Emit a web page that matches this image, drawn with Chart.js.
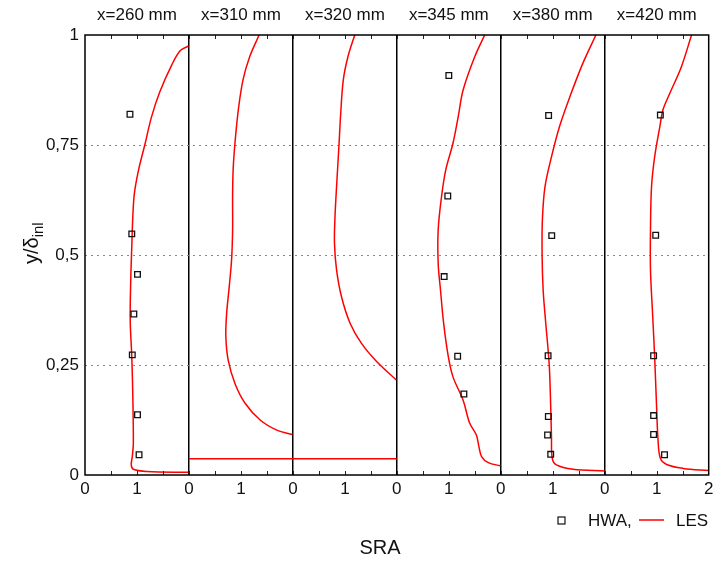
<!DOCTYPE html>
<html>
<head>
<meta charset="utf-8">
<script src="https://cdn.jsdelivr.net/npm/chart.js@4.4.1/dist/chart.umd.min.js"></script>
<style>
  html, body { margin: 0; padding: 0; background: #fff; }
  #wrap { width: 714px; height: 565px; }
</style>
</head>
<body>
<div id="wrap"><canvas id="c" width="714" height="565"></canvas></div>
<script>
// === Data (SRA per panel, local x in 0..2, y = y/delta_inl) ===
const PANELS = ['x=260 mm', 'x=310 mm', 'x=320 mm', 'x=345 mm', 'x=380 mm', 'x=420 mm'];
const PANEL_SPAN = 2;
const Y_TICKS = [0, 0.25, 0.5, 0.75, 1];

const LES_260 = [[1.99,0.975],[1.83,0.964],[1.67,0.932],[1.44,0.871],[1.28,0.814],[1.15,0.75],[1.03,0.693],
  [0.95,0.64],[0.92,0.587],[0.9,0.519],[0.88,0.443],[0.87,0.352],[0.9,0.269],[0.92,0.178],[0.93,0.072],
  [0.91,0.042],[0.89,0.023],[0.93,0.013],[1.19,0.008],[1.99,0.006]];
const LES_310 = [[1.35,1],[1.17,0.951],[1.04,0.898],[0.95,0.83],[0.885,0.754],[0.85,0.693],[0.84,0.633],
  [0.84,0.557],[0.82,0.489],[0.775,0.428],[0.725,0.367],[0.71,0.314],[0.755,0.261],[0.885,0.208],
  [1.08,0.163],[1.37,0.125],[1.69,0.102],[1.99,0.092]];
const LES_WALL = [[0,0.037],[4,0.037]]; // near-wall LES line, panel x=310 coords, runs through x=320
const LES_320 = [[1.19,1],[1.06,0.951],[0.97,0.898],[0.92,0.822],[0.885,0.746],[0.84,0.655],[0.81,0.587],
  [0.8,0.527],[0.84,0.466],[0.935,0.405],[1.1,0.345],[1.32,0.299],[1.61,0.258],[1.99,0.216]];
const LES_345 = [[1.69,1],[1.5,0.951],[1.275,0.875],[1.18,0.814],[1.08,0.754],[0.94,0.693],[0.86,0.633],
  [0.795,0.557],[0.795,0.481],[0.84,0.42],[0.9,0.345],[0.99,0.269],[1.08,0.223],[1.275,0.17],[1.4,0.118],
  [1.53,0.091],[1.58,0.064],[1.63,0.042],[1.76,0.028],[1.99,0.021]];
const LES_380 = [[1.83,1],[1.58,0.936],[1.33,0.86],[1.13,0.792],[0.975,0.723],[0.85,0.655],[0.8,0.58],
  [0.795,0.496],[0.815,0.42],[0.865,0.345],[0.93,0.254],[0.955,0.178],[0.975,0.087],[0.99,0.038],
  [1.07,0.023],[1.39,0.013],[2.0,0.009]];
const LES_420 = [[1.67,1],[1.475,0.928],[1.25,0.867],[1.12,0.83],[1.06,0.792],[0.96,0.723],[0.9,0.655],
  [0.88,0.557],[0.88,0.466],[0.92,0.367],[0.96,0.269],[0.99,0.178],[1.025,0.08],[1.07,0.038],
  [1.19,0.024],[1.51,0.015],[2.0,0.01]];

const HWA_260 = [[0.865,0.82],[0.9,0.548],[1.01,0.456],[0.94,0.366],[0.91,0.273],[1.01,0.137],[1.04,0.046]];
const HWA_310 = [];
const HWA_320 = [];
const HWA_345 = [[1.0,0.908],[0.98,0.634],[0.91,0.451],[1.17,0.27],[1.29,0.184]];
const HWA_380 = [[0.92,0.817],[0.98,0.544],[0.91,0.271],[0.915,0.133],[0.9,0.091],[0.96,0.047]];
const HWA_420 = [[1.07,0.818],[0.98,0.545],[0.94,0.271],[0.94,0.135],[0.94,0.092],[1.15,0.046]];

const LES = [LES_260, LES_310, LES_320, LES_345, LES_380, LES_420];
const HWA = [HWA_260, HWA_310, HWA_320, HWA_345, HWA_380, HWA_420];

const FONT = "'Liberation Sans', Arial, Helvetica, sans-serif";
const RED = '#ff0000';

// shift local panel coords onto the shared x axis
const place = (pts, i) => pts.map(([x, y]) => ({x: x + i * PANEL_SPAN, y}));

const datasets = [];
LES.forEach((pts, i) => datasets.push({
  label: 'LES', data: place(pts, i), showLine: true, borderColor: RED, borderWidth: 1.5,
  pointRadius: 0, tension: 0.35, order: 2
}));
datasets.push({
  label: 'LES', data: place(LES_WALL, 1), showLine: true, borderColor: RED, borderWidth: 1.5,
  pointRadius: 0, tension: 0, order: 2
});
HWA.forEach((pts, i) => datasets.push({
  label: 'HWA', data: place(pts, i), showLine: false, pointStyle: 'rect', pointRadius: 4,
  borderColor: '#111', borderWidth: 1.3, backgroundColor: 'rgba(255,255,255,0)', order: 1
}));

// === Frame, inner ticks, titles, legend ===
const decor = {
  id: 'decor',
  afterDraw(chart){
    const {ctx, chartArea: a, scales: {x, y}} = chart;
    ctx.save();
    ctx.strokeStyle = '#222';
    ctx.lineWidth = 1;
    for(let v = 0.5; v < PANELS.length * PANEL_SPAN; v += 0.5){
      const px = Math.round(x.getPixelForValue(v)) + 0.5;
      ctx.beginPath();
      ctx.moveTo(px, a.bottom); ctx.lineTo(px, a.bottom - 4);
      ctx.moveTo(px, a.top); ctx.lineTo(px, a.top + 4);
      ctx.stroke();
    }
    ctx.strokeStyle = '#000';
    ctx.lineWidth = 1.5;
    ctx.strokeRect(a.left, a.top, a.right - a.left, a.bottom - a.top);

    ctx.fillStyle = '#111';
    ctx.textAlign = 'center';
    ctx.textBaseline = 'middle';
    ctx.font = '17px ' + FONT;
    PANELS.forEach((t, i) => ctx.fillText(t, x.getPixelForValue(i * PANEL_SPAN + 1), 15));

    ctx.font = '20px ' + FONT;
    ctx.fillText('SRA', 380, 548);

    // y title with subscript
    ctx.save();
    ctx.translate(38, 240);
    ctx.rotate(-Math.PI / 2);
    ctx.textAlign = 'left';
    ctx.textBaseline = 'alphabetic';
    ctx.font = '20px ' + FONT;
    const main = 'y/\u03b4';
    const w = ctx.measureText(main).width;
    ctx.fillText(main, -24, 0);
    ctx.font = '15px ' + FONT;
    ctx.fillText('inl', -24 + w, 5);
    ctx.restore();

    // legend
    ctx.strokeStyle = '#111';
    ctx.lineWidth = 1.2;
    ctx.strokeRect(558, 517, 7, 7);
    ctx.textAlign = 'left';
    ctx.font = '17px ' + FONT;
    ctx.fillText('HWA,', 588, 521);
    ctx.strokeStyle = RED;
    ctx.lineWidth = 1.5;
    ctx.beginPath(); ctx.moveTo(639, 520); ctx.lineTo(664, 520); ctx.stroke();
    ctx.fillText('LES', 676, 521);
    ctx.restore();
  }
};

new Chart(document.getElementById('c'), {
  type: 'scatter',
  data: {datasets},
  options: {
    responsive: false, animation: false, devicePixelRatio: 1,
    layout: {padding: {left: 0, right: 0, top: 35, bottom: 0}},
    plugins: {legend: {display: false}, tooltip: {enabled: false}},
    scales: {
      x: {
        type: 'linear', min: 0, max: PANELS.length * PANEL_SPAN,
        afterBuildTicks: s => { s.ticks = Array.from({length: PANELS.length * PANEL_SPAN + 1}, (_, i) => ({value: i})); },
        afterFit: s => { s.height = 90; s.paddingRight = 5; },
        ticks: {
          font: {size: 17, family: FONT}, color: '#111', padding: 4, maxRotation: 0, autoSkip: false,
          callback: v => v % 2 === 1 ? '1' : (v === PANELS.length * PANEL_SPAN ? '2' : '0')
        },
        grid: {
          drawTicks: false,
          color: c => (c.tick && c.tick.value % 2 === 0 && c.tick.value > 0 && c.tick.value < PANELS.length * PANEL_SPAN) ? '#000' : 'rgba(0,0,0,0)',
          lineWidth: 1.5
        },
        border: {display: false}
      },
      y: {
        type: 'linear', min: 0, max: 1,
        afterBuildTicks: s => { s.ticks = Y_TICKS.map(v => ({value: v})); },
        afterFit: s => { s.width = 85; },
        ticks: {
          font: {size: 17, family: FONT}, color: '#111', padding: 6,
          callback: v => String(v).replace('.', ',')
        },
        grid: {
          drawTicks: false,
          color: c => (c.tick && c.tick.value > 0 && c.tick.value < 1) ? '#888' : 'rgba(0,0,0,0)',
          lineWidth: 1
        },
        border: {display: false, dash: [2, 4]}
      }
    }
  },
  plugins: [decor]
});
</script>
</body>
</html>
